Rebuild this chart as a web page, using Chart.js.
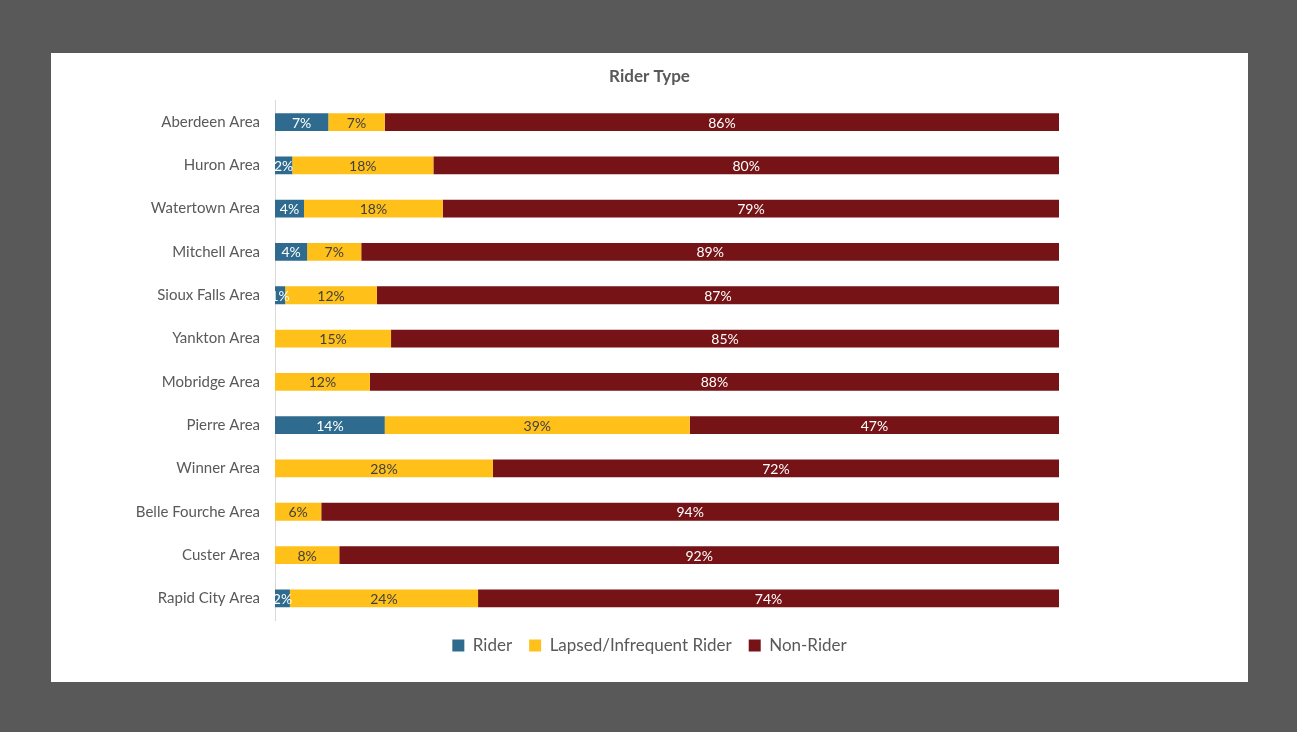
<!DOCTYPE html>
<html>
<head>
<meta charset="utf-8">
<script src="https://cdn.jsdelivr.net/npm/chart.js@4"></script>
<style>
    html, body { margin: 0; padding: 0; background: #595959; }
    #panel { position: absolute; left: 51px; top: 53px; width: 1197px; height: 629px; background: #ffffff; }
</style>
</head>
<body>
<div id="panel"><canvas id="riderChart"></canvas></div>
<script>
const areas = ['Aberdeen Area', 'Huron Area', 'Watertown Area', 'Mitchell Area', 'Sioux Falls Area',
    'Yankton Area', 'Mobridge Area', 'Pierre Area', 'Winner Area', 'Belle Fourche Area',
    'Custer Area', 'Rapid City Area'];
const rider = [6.8, 2.2, 3.7, 4.1, 1.3, 0, 0, 14.0, 0, 0, 0, 1.9];
const lapsed = [7.2, 18.0, 17.7, 6.9, 11.7, 14.8, 12.1, 38.9, 27.8, 5.9, 8.2, 24.0];
const nonRider = [86.0, 79.8, 78.6, 89.0, 87.0, 85.2, 87.9, 47.1, 72.2, 94.1, 91.8, 74.1];

const textGray = '#595959';
const fontFamily = 'Lato, "Open Sans", sans-serif';

// draws the percent inside each bar segment
const barLabels = {
    id: 'barLabels',
    afterDatasetsDraw(chart) {
        const ctx = chart.ctx;
        ctx.save();
        ctx.font = '14px ' + fontFamily;
        ctx.textAlign = 'center';
        ctx.textBaseline = 'middle';
        chart.data.datasets.forEach((ds, i) => {
            const meta = chart.getDatasetMeta(i);
            meta.data.forEach((bar, j) => {
                const v = ds.data[j];
                if (!v) return;
                const x = (bar.x + bar.base) / 2;
                ctx.fillStyle = ds.labelColor;
                ctx.fillText(Math.round(v) + '%', x, bar.y + 1);
            });
        });
        ctx.restore();
    }
};

const ctx = document.getElementById('riderChart').getContext('2d');
new Chart(ctx, {
    type: 'bar',
    data: {
        labels: areas,
        datasets: [
            { label: 'Rider', data: rider, backgroundColor: '#2E6B8E', labelColor: '#ffffff' },
            { label: 'Lapsed/Infrequent Rider', data: lapsed, backgroundColor: '#FFC01A', labelColor: '#404040' },
            { label: 'Non-Rider', data: nonRider, backgroundColor: '#761316', labelColor: '#ffffff' }
        ]
    },
    options: {
        indexAxis: 'y',
        responsive: true,
        maintainAspectRatio: false,
        animation: false,
        datasets: {
            bar: { barPercentage: 0.41, categoryPercentage: 1.0, borderWidth: 0 }
        },
        layout: { padding: { left: 0, right: 0, top: 0, bottom: 18 } },
        scales: {
            x: {
                stacked: true,
                min: 0,
                max: 100,
                display: false
            },
            y: {
                stacked: true,
                grid: { display: false, drawTicks: false },
                border: { display: true, color: '#D9D9D9', width: 1 },
                ticks: { color: textGray, font: { family: fontFamily, size: 15 }, padding: 15 },
                afterFit: (scale) => { scale.width = 224; }
            },
            // empty right-hand axis, only keeps the white space right of the bars
            yRight: {
                type: 'category',
                axis: 'y',
                position: 'right',
                grid: { display: false, drawTicks: false },
                border: { display: false },
                ticks: { display: false },
                afterFit: (scale) => { scale.width = 189; }
            }
        },
        plugins: {
            title: {
                display: true,
                text: 'Rider Type',
                color: textGray,
                font: { family: fontFamily, size: 17, weight: 'bold' },
                padding: { top: 13, bottom: 14 }
            },
            legend: {
                position: 'bottom',
                labels: {
                    color: textGray,
                    font: { family: fontFamily, size: 17 },
                    boxWidth: 12,
                    boxHeight: 12,
                    padding: 17
                }
            },
            tooltip: { enabled: false }
        }
    },
    plugins: [barLabels]
});
</script>
</body>
</html>
